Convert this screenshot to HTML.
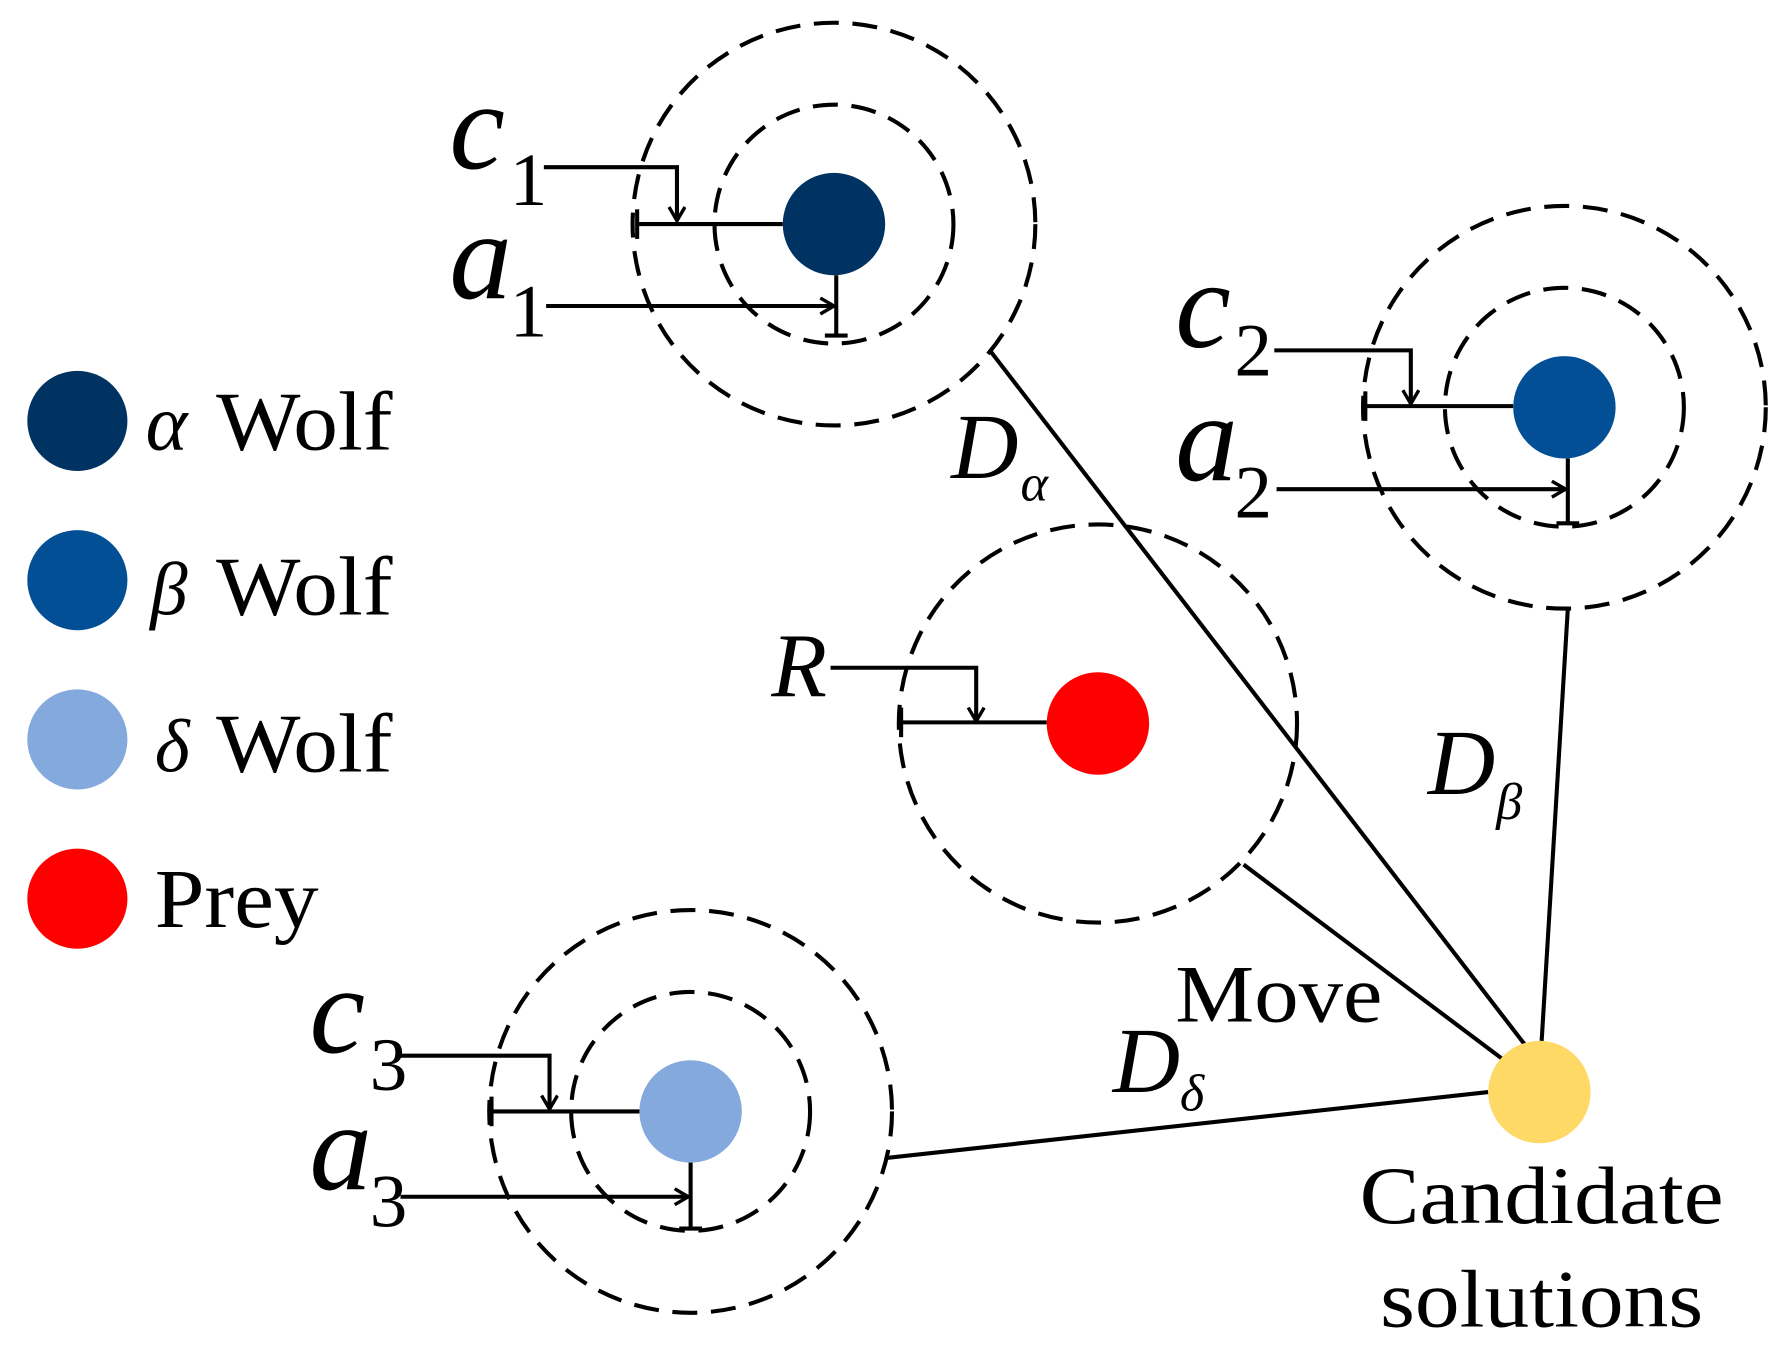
<!DOCTYPE html>
<html><head><style>html,body{margin:0;padding:0;background:#fff}svg{display:block}</style></head>
<body>
<svg width="1784" height="1356" viewBox="0 0 1568 1192" preserveAspectRatio="none" xmlns="http://www.w3.org/2000/svg" font-family="Liberation Serif, serif">
<defs>
<marker id="ar" markerWidth="20" markerHeight="20" refX="14" refY="8" orient="auto" markerUnits="userSpaceOnUse">
<path d="M2,1 L14,8 L2,15" fill="none" stroke="#000" stroke-width="3"/>
</marker>
</defs>
<g fill="none" stroke="#000" stroke-width="3.6">
<line x1="870" y1="308" x2="1340" y2="918"/>
<line x1="1093" y1="760" x2="1322" y2="932"/>
<line x1="1378" y1="535" x2="1355" y2="915"/>
<line x1="778" y1="1018" x2="1308" y2="960"/>
<g stroke-dasharray="22,12">
<circle cx="733" cy="197" r="105"/><circle cx="733" cy="197" r="177"/>
<circle cx="1375" cy="358" r="105"/><circle cx="1375" cy="358" r="177"/>
<circle cx="607" cy="977" r="105"/><circle cx="607" cy="977" r="177"/>
<circle cx="965" cy="636" r="175"/>
</g>
</g>
<circle cx="733" cy="197" r="45" fill="#003361"/>
<circle cx="1375" cy="358" r="45" fill="#034f96"/>
<circle cx="607" cy="977" r="45" fill="#84a9dc"/>
<circle cx="965" cy="636" r="45" fill="#ff0000"/>
<circle cx="1353" cy="960" r="45" fill="#ffd966"/>
<g fill="none" stroke="#000" stroke-width="3.6">
<polyline points="478,147 595,147 595,194" marker-end="url(#ar)"/>
<line x1="560" y1="197" x2="688" y2="197"/><line x1="560" y1="184" x2="560" y2="210"/>
<line x1="480" y1="269" x2="733" y2="269" marker-end="url(#ar)"/>
<line x1="735" y1="242" x2="735" y2="295"/><line x1="725" y1="295" x2="745" y2="295"/>
<polyline points="1120,308 1240,308 1240,355" marker-end="url(#ar)"/>
<line x1="1200" y1="357" x2="1330" y2="357"/><line x1="1200" y1="344" x2="1200" y2="370"/>
<line x1="1122" y1="430" x2="1376" y2="430" marker-end="url(#ar)"/>
<line x1="1378" y1="403" x2="1378" y2="460"/><line x1="1368" y1="460" x2="1388" y2="460"/>
<polyline points="352,928 483,928 483,975" marker-end="url(#ar)"/>
<line x1="432" y1="977" x2="562" y2="977"/><line x1="432" y1="964" x2="432" y2="990"/>
<line x1="352" y1="1052" x2="605" y2="1052" marker-end="url(#ar)"/>
<line x1="607" y1="1022" x2="607" y2="1080"/><line x1="597" y1="1080" x2="617" y2="1080"/>
<polyline points="730,587 858,587 858,634" marker-end="url(#ar)"/>
<line x1="792" y1="635" x2="920" y2="635"/><line x1="792" y1="622" x2="792" y2="648"/>
</g>
<circle cx="68" cy="370" r="44" fill="#003361"/>
<circle cx="68" cy="510" r="44" fill="#034f96"/>
<circle cx="68" cy="650" r="44" fill="#84a9dc"/>
<circle cx="68" cy="790" r="44" fill="#ff0000"/>
<g font-size="74" fill="#000">
<text x="128" y="395" font-style="italic" font-size="70">α</text><text x="190" y="395" textLength="155" lengthAdjust="spacingAndGlyphs">Wolf</text>
<text x="132" y="540" font-style="italic" font-size="66">β</text><text x="190" y="540" textLength="155" lengthAdjust="spacingAndGlyphs">Wolf</text>
<text x="136" y="678" font-style="italic" font-size="66">δ</text><text x="190" y="678" textLength="155" lengthAdjust="spacingAndGlyphs">Wolf</text>
<text x="136" y="815" textLength="144" lengthAdjust="spacingAndGlyphs">Prey</text>
</g>
<g fill="#000">
<text x="395" y="148" font-size="110" font-style="italic">c</text><text x="448" y="180" font-size="66">1</text>
<text x="395" y="262" font-size="110" font-style="italic">a</text><text x="448" y="296" font-size="66">1</text>
<text x="1033" y="305" font-size="110" font-style="italic">c</text><text x="1085" y="330" font-size="66">2</text>
<text x="1033" y="422" font-size="110" font-style="italic">a</text><text x="1085" y="455" font-size="66">2</text>
<text x="272" y="925" font-size="110" font-style="italic">c</text><text x="325" y="958" font-size="66">3</text>
<text x="272" y="1045" font-size="110" font-style="italic">a</text><text x="325" y="1078" font-size="66">3</text>
<text x="678" y="612" font-size="80" font-style="italic">R</text>
<text x="836" y="420" font-size="82" font-style="italic">D</text><text x="897" y="440" font-size="46" font-style="italic">α</text>
<text x="1255" y="698" font-size="82" font-style="italic">D</text><text x="1315" y="720" font-size="46" font-style="italic">β</text>
<text x="978" y="960" font-size="82" font-style="italic">D</text><text x="1037" y="976" font-size="46" font-style="italic">δ</text>
<text x="1033" y="898" font-size="72" textLength="182" lengthAdjust="spacingAndGlyphs">Move</text>
<text x="1195" y="1075" font-size="72" textLength="320" lengthAdjust="spacingAndGlyphs">Candidate</text>
<text x="1213" y="1166" font-size="72" textLength="284" lengthAdjust="spacingAndGlyphs">solutions</text>
</g>
</svg>
</body></html>
